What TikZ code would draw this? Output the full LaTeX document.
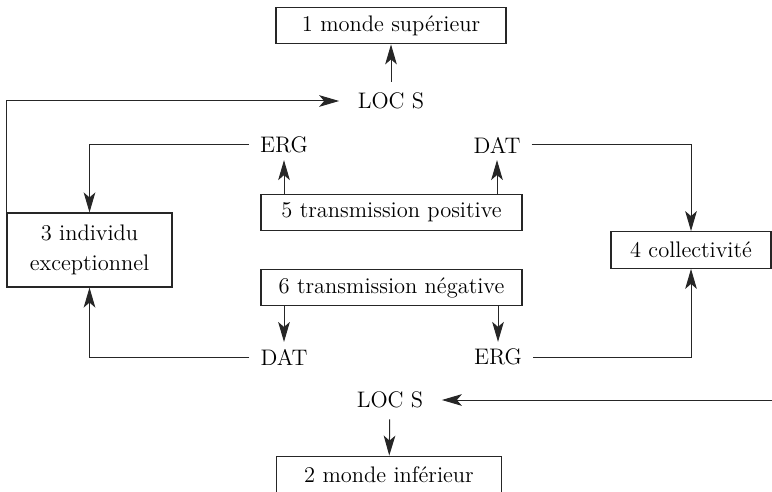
\documentclass[tikz,border=0pt]{standalone}
\usepackage{tikz}
\usetikzlibrary{calc}
\usetikzlibrary{arrows.meta}
\newcommand{\blocnode}[5]{\node[bloc, #4] (#1) at ( #2 , #3 ) {#5};}
\newcommand{\casnode}[4]{\node[cas] (#1) at ( #2 , #3 ) {#4};}
\tikzset{
  bloc/.style={draw=black!85, line width=0.7pt, minimum height=22pt, inner sep=3pt, align=center},
  cas/.style={draw=none, inner xsep=6.5pt, inner ysep=4pt},
  loc/.style={draw=none, inner xsep=11pt, inner ysep=6.5pt},
  fleche/.style={draw=black!85, line width=0.6pt, -{Stealth[length=12pt,width=7pt,inset=3pt]}}
}
\begin{document}
\begin{tikzpicture}[x=0.6pt, y=-0.6pt, font=\fontsize{13.5}{18}\selectfont]
                \useasboundingbox (0,0) rectangle (772,491);
                % top
                \blocnode{mA}{391}{25.5}{minimum width=138pt}{1 monde supérieur}
                \node[loc] (locH) at (391,101) {LOC S};
                \casnode{ergH}{284}{145}{ERG}
                \casnode{datH}{497}{145}{DAT}
                \blocnode{bE}{391.5}{212.5}{minimum width=156.6pt}{5 transmission positive}
                % middle
                \blocnode{bC}{89.5}{250}{minimum width=99pt, minimum height=44.4pt}{3 individu\\exceptionnel}
                \blocnode{bD}{691}{250}{minimum width=96pt}{4 collectivité}
                % bottom
                \blocnode{bF}{391.5}{287.5}{minimum width=156.6pt}{6 transmission négative}
                \casnode{datB}{284}{357}{DAT}
                \casnode{ergB}{498}{357}{ERG}
                \node[loc] (locB) at (390,400) {LOC S};
                \blocnode{mB}{389}{474.5}{minimum width=135pt}{2 monde inférieur}
                \coordinate (bord) at (772,400);

                \draw[fleche] (locH) -- (mA);
                \draw[fleche] (bC.north west) |- (locH);
                \draw[fleche] (bE.north -| ergH) -- (ergH);
                \draw[fleche] (bE.north -| datH) -- (datH);
                \draw[fleche] (ergH) -| (bC);
                \draw[fleche] (datH) -| (bD);

                \draw[fleche] (bF.south -| datB) -- (datB);
                \draw[fleche] (bF.south -| ergB) -- (ergB);
                \draw[fleche] (datB) -| (bC);
                \draw[fleche] (ergB) -| (bD);
                \draw[fleche] (bord) -- (locB);
                \draw[fleche] (locB) -- (mB);
\end{tikzpicture}
\end{document}
